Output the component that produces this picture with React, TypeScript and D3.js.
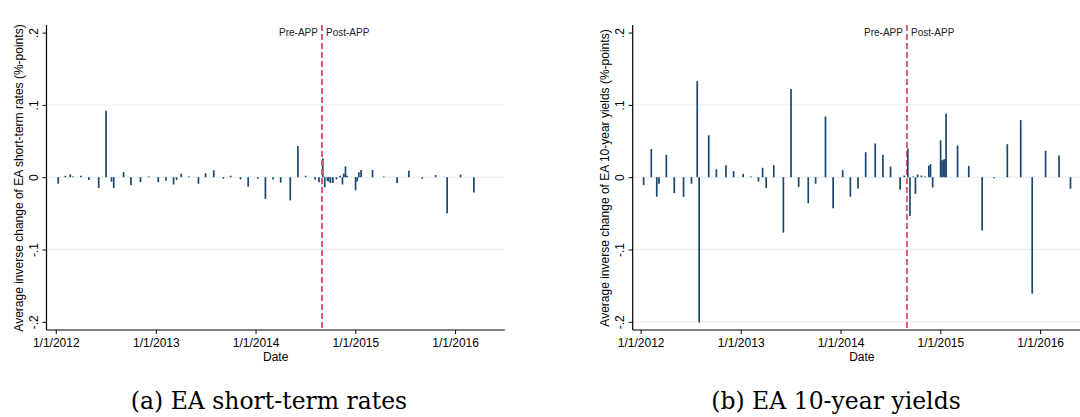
import React, { useRef, useEffect } from 'react';
import * as d3 from 'd3';

// ECB meeting days, panel (a): EA short-term rates
const shortDates = [
  '2012-01-10', '2012-02-05', '2012-02-23', '2012-03-04', '2012-04-02', '2012-05-01', '2012-06-06',
  '2012-07-03', '2012-07-23', '2012-07-31', '2012-09-05', '2012-10-02', '2012-11-06', '2012-12-06',
  '2013-01-10', '2013-02-07', '2013-03-07', '2013-03-18', '2013-04-04', '2013-05-02', '2013-06-06',
  '2013-07-02', '2013-08-01', '2013-09-05', '2013-10-02', '2013-11-07', '2013-12-05',
  '2014-01-09', '2014-02-06', '2014-03-06', '2014-04-03', '2014-05-08', '2014-06-05', '2014-07-03',
  '2014-08-07', '2014-08-21', '2014-09-04', '2014-09-11', '2014-09-21', '2014-09-25', '2014-10-02',
  '2014-10-11', '2014-10-24', '2014-11-06', '2014-11-15', '2014-11-20', '2014-11-26', '2014-12-02',
  '2015-01-02', '2015-01-08', '2015-01-14', '2015-01-22', '2015-03-05', '2015-04-15', '2015-06-03',
  '2015-07-16', '2015-09-03', '2015-10-22', '2015-12-03', '2016-01-21', '2016-03-10',
];
const shortValues = [
  -0.009, 0.002, 0.004, 0.001, 0.002, -0.004, -0.015,
  0.092, -0.006, -0.015, 0.007, -0.011, -0.007, 0.001,
  -0.007, -0.005, -0.01, -0.004, 0.005, 0.001, -0.009,
  0.0055, 0.0097, -0.002, 0.002, -0.003, -0.013,
  -0.002, -0.03, -0.003, -0.0074, -0.032, 0.043, 0.002,
  -0.003, -0.007, 0.026, -0.014, -0.005, -0.006, -0.008,
  -0.008, -0.003, 0.002, -0.01, 0.005, 0.015, 0.002,
  -0.018, -0.006, 0.007, 0.01, 0.01, 0.001, -0.008,
  0.0088, -0.002, 0.003, -0.05, 0.0035, -0.021,
];

// panel (b): EA 10-year yields
const longDates = [
  '2012-01-12', '2012-02-09', '2012-02-29', '2012-03-08', '2012-04-04', '2012-05-03', '2012-06-06',
  '2012-07-05', '2012-07-26', '2012-08-02', '2012-09-06', '2012-10-04', '2012-11-08', '2012-12-06',
  '2013-01-10', '2013-02-07', '2013-03-07', '2013-03-22', '2013-04-04', '2013-05-02', '2013-06-06',
  '2013-07-04', '2013-08-01', '2013-09-05', '2013-10-02', '2013-11-07', '2013-12-05',
  '2014-01-09', '2014-02-06', '2014-03-06', '2014-04-03', '2014-05-08', '2014-06-05', '2014-07-03',
  '2014-08-07', '2014-08-22', '2014-09-04', '2014-09-12', '2014-09-23', '2014-10-02', '2014-10-10',
  '2014-10-24', '2014-11-06', '2014-11-20', '2014-11-26', '2014-12-04',
  '2015-01-02', '2015-01-07', '2015-01-13', '2015-01-18', '2015-01-22', '2015-03-05', '2015-04-15',
  '2015-06-03', '2015-07-16', '2015-09-03', '2015-10-22', '2015-12-03', '2016-01-21', '2016-03-10',
  '2016-04-21',
];
const longValues = [
  -0.011, 0.039, -0.027, -0.009, 0.031, -0.022, -0.027,
  -0.009, 0.133, -0.201, 0.058, 0.011, 0.0166, 0.0083,
  0.0046, 0.001, -0.006, 0.013, -0.015, 0.0166, -0.0766,
  0.122, -0.0134, -0.036, -0.009, 0.084, -0.043,
  0.0097, -0.027, -0.0157, 0.0346, 0.0466, 0.031, 0.0148,
  -0.0175, 0.0023, 0.0397, -0.0535, 0.001, -0.023, 0.0037,
  0.0023, 0.001, 0.016, 0.018, -0.0143,
  0.051, 0.0236, 0.0245, 0.025, 0.088, 0.0439, 0.0157,
  -0.0739, -0.0015, 0.0457, 0.079, -0.161, 0.0365, 0.03,
  -0.016,
];

const yTicks = [0.2, 0.1, 0, -0.1, -0.2];
const yTickLabels = ['.2', '.1', '0', '-.1', '-.2'];
const xTicks = ['2012-01-01', '2013-01-01', '2014-01-01', '2015-01-01', '2016-01-01'];
const xTickLabels = ['1/1/2012', '1/1/2013', '1/1/2014', '1/1/2015', '1/1/2016'];
const appDate = '2014-09-01';

const parse = d3.timeParse('%Y-%m-%d');
const sans = 'Liberation Sans, Arial, sans-serif';

function drawPanel(svg, cfg) {
  const { left, domain, dates, values, grid, lineColor, lineWidth, yTitle, caption, captionX } = cfg;
  const plotW = 458.3;
  const top = 25, bottom = 330;

  const x = d3.scaleTime().domain(domain.map(parse)).range([left, left + plotW]);
  const y = d3.scaleLinear().domain([-0.2113, 0.2105]).range([bottom, top]);

  const g = svg.append('g');

  g.selectAll('line.grid')
    .data(grid)
    .enter()
    .append('line')
    .attr('x1', left + 1)
    .attr('x2', left + plotW)
    .attr('y1', d => y(d))
    .attr('y2', d => y(d))
    .attr('stroke', '#eaf2f3')
    .attr('stroke-width', 1.4);

  const rows = dates.map((d, i) => ({ date: parse(d), value: values[i] }));
  g.selectAll('line.bar')
    .data(rows)
    .enter()
    .append('line')
    .attr('x1', d => x(d.date))
    .attr('x2', d => x(d.date))
    .attr('y1', y(0))
    .attr('y2', d => y(d.value))
    .attr('stroke', '#1a476f')
    .attr('stroke-width', 1.7);

  const xa = x(parse(appDate));
  g.append('line')
    .attr('x1', xa).attr('x2', xa)
    .attr('y1', top).attr('y2', bottom)
    .attr('stroke', lineColor)
    .attr('stroke-width', lineWidth)
    .attr('stroke-dasharray', '6,3');

  g.append('text')
    .attr('x', xa - 4).attr('y', 36)
    .attr('text-anchor', 'end')
    .style('font-family', sans).style('font-size', '10px')
    .attr('fill', '#222')
    .text('Pre-APP');
  g.append('text')
    .attr('x', xa + 4).attr('y', 36)
    .style('font-family', sans).style('font-size', '10px')
    .attr('fill', '#222')
    .text('Post-APP');

  // axes
  const yAxis = g.append('g')
    .attr('transform', `translate(${left},0)`)
    .call(d3.axisLeft(y).tickValues(yTicks).tickSize(4).tickFormat((d, i) => yTickLabels[i]));
  yAxis.select('.domain').attr('d', `M0,${top}V${bottom}`).attr('stroke', '#000').attr('stroke-width', 1.2);
  yAxis.selectAll('.tick line').attr('stroke', '#000');
  yAxis.selectAll('.tick text')
    .attr('x', null).attr('dy', null)
    .attr('transform', 'translate(-9,0) rotate(-90)')
    .attr('text-anchor', 'middle')
    .attr('fill', '#000')
    .style('font-family', sans).style('font-size', '12px');

  const xAxis = g.append('g')
    .attr('transform', `translate(0,${bottom})`)
    .call(d3.axisBottom(x).tickValues(xTicks.map(parse)).tickSize(4).tickFormat((d, i) => xTickLabels[i]));
  xAxis.select('.domain').attr('d', `M${left},0H${left + plotW}`).attr('stroke', '#000').attr('stroke-width', 1.2);
  xAxis.selectAll('.tick line').attr('stroke', '#000');
  xAxis.selectAll('.tick text')
    .attr('y', 16.5).attr('dy', null)
    .attr('fill', '#000')
    .style('font-family', sans).style('font-size', '12px');

  g.append('text')
    .attr('x', left + plotW / 2).attr('y', 361)
    .attr('text-anchor', 'middle')
    .style('font-family', sans).style('font-size', '12px')
    .text('Date');

  g.append('text')
    .attr('transform', `translate(${left - 23.5},${(top + bottom) / 2 + 0.5}) rotate(-90)`)
    .attr('text-anchor', 'middle')
    .style('font-family', sans).style('font-size', '12px')
    .text(yTitle);

  svg.append('text')
    .attr('x', captionX).attr('y', 409)
    .attr('text-anchor', 'middle')
    .style('font-family', 'DejaVu Serif, serif').style('font-size', '23.5px')
    .style('font-weight', 300)
    .text(caption);
}

export default function App() {
  const ref = useRef(null);

  useEffect(() => {
    const svg = d3.select(ref.current);
    svg.selectAll('*').remove();

    drawPanel(svg, {
      left: 46.5,
      domain: ['2011-11-28', '2016-07-01'],
      dates: shortDates,
      values: shortValues,
      grid: [0.1, 0, -0.1],
      lineColor: '#de5580',
      lineWidth: 2,
      yTitle: 'Average inverse change of EA short-term rates (%-points)',
      caption: '(a) EA short-term rates',
      captionX: 269,
    });

    drawPanel(svg, {
      left: 632.7,
      domain: ['2011-12-03', '2016-07-05'],
      dates: longDates,
      values: longValues,
      grid: [0.1, 0, -0.1, -0.2],
      lineColor: '#c8102e',
      lineWidth: 1.3,
      yTitle: 'Average inverse change of EA 10-year yields (%-points)',
      caption: '(b) EA 10-year yields',
      captionX: 836,
    });
  }, []);

  return (
    <svg
      ref={ref}
      width={1080}
      height={417}
      style={{ position: 'absolute', left: 0, top: 0, background: '#fff' }}
    />
  );
}
